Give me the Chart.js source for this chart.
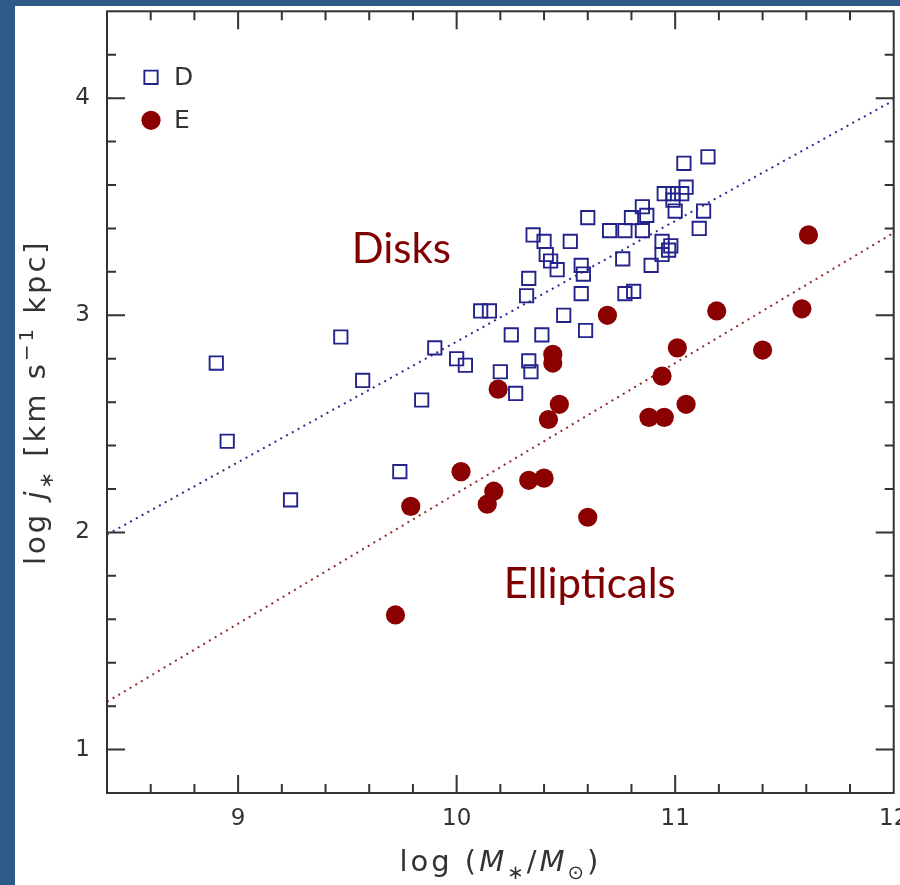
<!DOCTYPE html>
<html>
<head>
<meta charset="utf-8">
<script src="https://cdn.jsdelivr.net/npm/chart.js@4.4.1/dist/chart.umd.min.js"></script>
<style>
  html, body { margin: 0; padding: 0; width: 900px; height: 885px; overflow: hidden; background: #2e5a87; }
  #panel { position: absolute; left: 15px; top: 6px; width: 885px; height: 879px; background: #fff; }
  #grafico { position: absolute; left: 0; top: 0; }
</style>
</head>
<body>
<div id="panel"></div>
<canvas id="grafico" width="905" height="885"></canvas>
<script>
// datos: log M* y log j*
const diskMass = [8.90, 8.95, 9.24, 9.47, 9.57, 9.84, 9.74, 9.90, 10.00, 10.04,
    10.11, 10.15, 10.20, 10.25, 10.27, 10.32, 10.33, 10.35, 10.33, 10.34,
    10.39, 10.40, 10.41, 10.43, 10.46, 10.49, 10.52, 10.57, 10.58, 10.59,
    10.57, 10.60, 10.70, 10.76, 10.77, 10.81, 10.77, 10.80, 10.85, 10.87,
    10.85, 10.89, 10.94, 10.98, 10.97, 10.94, 10.95, 10.99, 11.03, 10.99,
    11.00, 11.05, 11.04, 11.15, 11.13, 11.11];
const diskJ = [2.78, 2.42, 2.15, 2.90, 2.70, 2.61, 2.28, 2.85, 2.80, 2.77,
    3.02, 3.02, 2.74, 2.91, 2.64, 3.09, 3.17, 3.37, 2.79, 2.74,
    2.91, 3.34, 3.28, 3.25, 3.21, 3.00, 3.34, 3.23, 3.19, 2.93,
    3.10, 3.45, 3.39, 3.26, 3.10, 3.11, 3.39, 3.45, 3.50, 3.46,
    3.39, 3.23, 3.34, 3.32, 3.30, 3.28, 3.56, 3.56, 3.56, 3.53,
    3.48, 3.59, 3.70, 3.73, 3.48, 3.40];
const ellMass = [11.61, 11.58, 11.19, 10.69, 11.01, 11.40, 10.44, 10.44, 10.94, 10.19,
    10.47, 11.05, 10.42, 10.88, 10.95, 10.02, 10.17, 10.14, 10.33, 10.40,
    9.79, 10.60, 9.72];
const ellJ = [3.37, 3.03, 3.02, 3.00, 2.85, 2.84, 2.82, 2.78, 2.72, 2.66,
    2.59, 2.59, 2.52, 2.53, 2.53, 2.28, 2.19, 2.13, 2.24, 2.25,
    2.12, 2.07, 1.62];
// lineas de ajuste (extremos)
const fitMass = [8.4, 12];
const diskFit = [1.99, 3.99];
const ellFit = [1.22, 3.38];
// ticks
const xTicks = [9, 10, 11, 12];
const yTicks = [1, 2, 3, 4];

const azul = '#23238c';
const rojo = '#8b0000';
const ejeColor = '#333';

function puntos(xs, ys) {
    return xs.map((x, i) => ({ x: x, y: ys[i] }));
}

// dibuja texto con partes en cursiva / subindice / superindice
function textoRico(ctx, partes, size, x, y) {
    const fam = '"DejaVu Sans", sans-serif';
    ctx.letterSpacing = '3px';
    let fuentes = partes.map(p => {
        let s = (p.sub || p.sup) ? size * 0.68 : size;
        return (p.it ? 'italic ' : '') + s + 'px ' + fam;
    });
    let total = 0;
    partes.forEach((p, i) => { ctx.font = fuentes[i]; total += ctx.measureText(p.t).width; });
    let cx = x - total / 2;
    partes.forEach((p, i) => {
        ctx.font = fuentes[i];
        let dy = p.sub ? size * 0.28 : (p.sup ? -size * 0.42 : 0);
        ctx.fillText(p.t, cx, y + dy);
        cx += ctx.measureText(p.t).width;
    });
    ctx.letterSpacing = '0px';
}

const marcoPlugin = {
    id: 'marco',
    afterDraw(chart) {
        const ctx = chart.ctx;
        const a = chart.chartArea;
        const sx = chart.scales.x;
        const sy = chart.scales.y;
        ctx.save();
        ctx.strokeStyle = ejeColor;
        ctx.lineWidth = 2;
        ctx.strokeRect(a.left, a.top, a.right - a.left, a.bottom - a.top);

        // ticks hacia dentro en los cuatro lados
        ctx.beginPath();
        for (let i = 43; i < 60; i++) {
            let px = sx.getPixelForValue(i / 5);
            let len = (i % 5 === 0) ? 18 : 9;
            ctx.moveTo(px, a.bottom); ctx.lineTo(px, a.bottom - len);
            ctx.moveTo(px, a.top); ctx.lineTo(px, a.top + len);
        }
        for (let i = 5; i < 22; i++) {
            let py = sy.getPixelForValue(i / 5);
            let len = (i % 5 === 0) ? 18 : 9;
            ctx.moveTo(a.left, py); ctx.lineTo(a.left + len, py);
            ctx.moveTo(a.right, py); ctx.lineTo(a.right - len, py);
        }
        ctx.stroke();

        // titulos de ejes
        ctx.fillStyle = '#333';
        ctx.textBaseline = 'alphabetic';
        textoRico(ctx, [
            { t: 'log (' }, { t: 'M', it: true }, { t: '∗', sub: true },
            { t: '/' }, { t: 'M', it: true }, { t: '⊙', sub: true }, { t: ')' }
        ], 29, (a.left + a.right) / 2, 871);

        ctx.save();
        ctx.translate(45, (a.top + a.bottom) / 2);
        ctx.rotate(-Math.PI / 2);
        textoRico(ctx, [
            { t: 'log ' }, { t: 'j', it: true }, { t: '∗', sub: true },
            { t: ' [km s' }, { t: '−1', sup: true }, { t: ' kpc]' }
        ], 29, 0, 0);
        ctx.restore();

        // etiquetas Disks / Ellipticals
        ctx.fillStyle = '#800000';
        ctx.font = '42px Lato, "Open Sans", sans-serif';
        ctx.textAlign = 'left';
        ctx.fillText('Disks', sx.getPixelForValue(9.52), sy.getPixelForValue(3.243));
        ctx.fillText('Ellipticals', sx.getPixelForValue(10.215), sy.getPixelForValue(1.697));

        // leyenda
        ctx.font = '25px "DejaVu Sans", sans-serif';
        ctx.textBaseline = 'middle';
        [0, 1].forEach((k, n) => {
            const ds = chart.data.datasets[k];
            const lx = a.left + 44;
            const ly = a.top + 66 + n * 43;
            ctx.fillStyle = ds.backgroundColor;
            ctx.strokeStyle = ds.borderColor;
            ctx.lineWidth = ds.borderWidth;
            Chart.helpers.drawPoint(ctx, {
                pointStyle: ds.pointStyle, radius: ds.pointRadius,
                rotation: 0, borderWidth: ds.borderWidth
            }, lx, ly);
            ctx.fillStyle = '#333';
            ctx.fillText(ds.label, lx + 23, ly + 1);
        });
        ctx.restore();
    }
};

new Chart(document.getElementById('grafico'), {
    type: 'scatter',
    data: {
        datasets: [
            {
                label: 'D',
                data: puntos(diskMass, diskJ),
                pointStyle: 'rect',
                pointRadius: 9.4,
                backgroundColor: 'rgba(0,0,0,0)',
                borderColor: azul,
                borderWidth: 1.9
            },
            {
                label: 'E',
                data: puntos(ellMass, ellJ),
                pointStyle: 'circle',
                pointRadius: 9.6,
                backgroundColor: rojo,
                borderColor: rojo,
                borderWidth: 0
            },
            {
                label: 'ajuste D',
                data: puntos(fitMass, diskFit),
                showLine: true,
                pointRadius: 0,
                borderColor: '#2b2b90',
                borderWidth: 2,
                borderDash: [2, 4.6]
            },
            {
                label: 'ajuste E',
                data: puntos(fitMass, ellFit),
                showLine: true,
                pointRadius: 0,
                borderColor: '#8e2b2b',
                borderWidth: 2,
                borderDash: [2, 4.6]
            }
        ]
    },
    options: {
        responsive: false,
        animation: false,
        layout: { padding: { top: 8, right: 2, left: 0, bottom: 0 } },
        plugins: { legend: { display: false }, tooltip: { enabled: false } },
        scales: {
            x: {
                type: 'linear', min: 8.4, max: 12,
                grid: { display: false, drawTicks: false },
                border: { display: false },
                ticks: {
                    font: { family: '"DejaVu Sans", sans-serif', size: 23 },
                    color: '#333', padding: 12, maxRotation: 0, autoSkip: false
                },
                afterBuildTicks: s => { s.ticks = xTicks.map(v => ({ value: v })); },
                afterFit: s => { s.height = 92; s.paddingLeft = 0; s.paddingRight = 0; }
            },
            y: {
                type: 'linear', min: 0.8, max: 4.4,
                grid: { display: false, drawTicks: false },
                border: { display: false },
                ticks: {
                    font: { family: '"DejaVu Sans", sans-serif', size: 23 },
                    color: '#333', padding: 17, autoSkip: false
                },
                afterBuildTicks: s => { s.ticks = yTicks.map(v => ({ value: v })); },
                afterFit: s => { s.width = 107; s.paddingTop = 0; s.paddingBottom = 0; }
            }
        }
    },
    plugins: [marcoPlugin]
});
</script>
</body>
</html>
